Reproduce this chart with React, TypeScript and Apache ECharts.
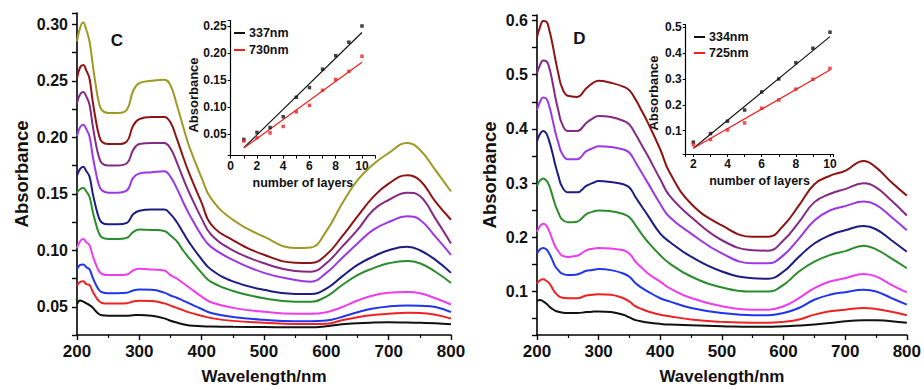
import React, { useEffect, useRef } from "react";
import * as echarts from "echarts";

// ---------- data ----------
const WAVELENGTHS = [200, 205, 210, 215, 220, 225, 230, 235, 240, 250, 265, 280, 290, 300, 320, 340, 350, 360, 370, 380, 400, 415, 450, 500, 550, 575, 600, 625, 650, 675, 700, 730, 750, 775, 800];

// Panel C spectra (layers 10 -> 1)
const C_L10 = [0.285, 0.297, 0.3015, 0.295, 0.285, 0.2655, 0.2465, 0.231, 0.224, 0.2215, 0.2215, 0.2245, 0.241, 0.248, 0.250, 0.251, 0.246, 0.229, 0.210, 0.192, 0.164, 0.146, 0.127, 0.112, 0.102, 0.1025, 0.117, 0.141, 0.162, 0.176, 0.186, 0.195, 0.189, 0.171, 0.152];
const C_L9 = [0.252, 0.262, 0.264, 0.259, 0.252, 0.2325, 0.2157, 0.2024, 0.196, 0.194, 0.194, 0.1964, 0.2103, 0.216, 0.218, 0.218, 0.213, 0.199, 0.183, 0.168, 0.142, 0.123, 0.109, 0.096, 0.089, 0.0888, 0.096, 0.112, 0.130, 0.147, 0.159, 0.1665, 0.162, 0.143, 0.127];
const C_L8 = [0.230, 0.238, 0.240, 0.236, 0.229, 0.211, 0.195, 0.183, 0.177, 0.175, 0.175, 0.177, 0.1886, 0.194, 0.195, 0.195, 0.190, 0.178, 0.164, 0.151, 0.128, 0.114, 0.100, 0.0885, 0.0817, 0.081, 0.0885, 0.103, 0.118, 0.1355, 0.1445, 0.151, 0.148, 0.128, 0.106];
const C_L7 = [0.201, 0.209, 0.211, 0.207, 0.201, 0.184, 0.1696, 0.158, 0.153, 0.151, 0.151, 0.153, 0.164, 0.168, 0.169, 0.170, 0.165, 0.155, 0.143, 0.132, 0.113, 0.103, 0.0915, 0.080, 0.0737, 0.0722, 0.080, 0.093, 0.106, 0.118, 0.125, 0.130, 0.127, 0.112, 0.096];
const C_L6 = [0.166, 0.172, 0.174, 0.170, 0.1653, 0.151, 0.1388, 0.129, 0.1245, 0.123, 0.123, 0.1243, 0.1318, 0.135, 0.136, 0.136, 0.132, 0.125, 0.116, 0.107, 0.092, 0.083, 0.0725, 0.065, 0.0613, 0.0613, 0.066, 0.0767, 0.087, 0.0944, 0.100, 0.103, 0.100, 0.0915, 0.080];
const C_L5 = [0.151, 0.154, 0.155, 0.152, 0.1474, 0.1348, 0.124, 0.1154, 0.1114, 0.110, 0.110, 0.111, 0.1161, 0.1184, 0.118, 0.117, 0.113, 0.108, 0.100, 0.093, 0.080, 0.072, 0.064, 0.0575, 0.0545, 0.0545, 0.059, 0.069, 0.078, 0.084, 0.0885, 0.0905, 0.0885, 0.081, 0.071];
const C_L4 = [0.102, 0.108, 0.110, 0.107, 0.1046, 0.0956, 0.0879, 0.0818, 0.079, 0.078, 0.078, 0.0786, 0.0821, 0.0836, 0.083, 0.082, 0.078, 0.075, 0.071, 0.067, 0.059, 0.054, 0.049, 0.0455, 0.0437, 0.0437, 0.0452, 0.0496, 0.0555, 0.060, 0.0623, 0.063, 0.062, 0.0575, 0.052];
const C_L3 = [0.083, 0.087, 0.0875, 0.085, 0.0832, 0.076, 0.0699, 0.0651, 0.0628, 0.062, 0.062, 0.0624, 0.0644, 0.0653, 0.065, 0.0625, 0.060, 0.058, 0.0555, 0.053, 0.048, 0.0445, 0.041, 0.0384, 0.0372, 0.0372, 0.0378, 0.041, 0.0452, 0.0485, 0.0503, 0.0511, 0.0508, 0.0497, 0.0452];
const C_L2 = [0.0685, 0.072, 0.0725, 0.070, 0.0692, 0.0636, 0.0589, 0.0552, 0.0534, 0.0528, 0.0528, 0.0531, 0.0546, 0.0553, 0.055, 0.053, 0.051, 0.049, 0.047, 0.045, 0.042, 0.040, 0.0375, 0.0359, 0.0347, 0.0347, 0.035, 0.038, 0.0408, 0.0428, 0.0437, 0.0446, 0.0445, 0.043, 0.0395];
const C_L1 = [0.0524, 0.0555, 0.0545, 0.053, 0.0515, 0.0494, 0.0462, 0.0436, 0.0424, 0.042, 0.042, 0.042, 0.0425, 0.0428, 0.042, 0.0397, 0.0376, 0.036, 0.0345, 0.0335, 0.0328, 0.0325, 0.0322, 0.032, 0.0318, 0.0318, 0.0328, 0.0345, 0.0355, 0.036, 0.0362, 0.036, 0.0358, 0.0355, 0.0345];

// Panel D spectra (layers 10 -> 2)
const D_L10 = [0.5695, 0.588, 0.599, 0.598, 0.582, 0.557, 0.527, 0.500, 0.478, 0.461, 0.459, 0.475, 0.484, 0.489, 0.485, 0.478, 0.471, 0.454, 0.433, 0.411, 0.362, 0.320, 0.262, 0.222, 0.201, 0.201, 0.222, 0.259, 0.298, 0.3135, 0.3227, 0.341, 0.329, 0.3015, 0.277];
const D_L9 = [0.502, 0.518, 0.526, 0.525, 0.512, 0.487, 0.457, 0.432, 0.411, 0.396, 0.396, 0.411, 0.419, 0.424, 0.422, 0.415, 0.408, 0.390, 0.370, 0.350, 0.307, 0.277, 0.2375, 0.1947, 0.1764, 0.1755, 0.1947, 0.2283, 0.265, 0.280, 0.289, 0.2996, 0.2923, 0.2678, 0.2404];
const D_L8 = [0.435, 0.450, 0.458, 0.456, 0.4415, 0.418, 0.393, 0.373, 0.356, 0.344, 0.344, 0.359, 0.364, 0.368, 0.3665, 0.362, 0.356, 0.338, 0.319, 0.300, 0.2616, 0.2375, 0.207, 0.1704, 0.1521, 0.1521, 0.1673, 0.1978, 0.2313, 0.2496, 0.2576, 0.266, 0.260, 0.2375, 0.213];
const D_L7 = [0.377, 0.391, 0.396, 0.392, 0.377, 0.356, 0.332, 0.312, 0.295, 0.283, 0.283, 0.295, 0.300, 0.304, 0.302, 0.298, 0.292, 0.274, 0.257, 0.240, 0.207, 0.192, 0.1643, 0.137, 0.1247, 0.1237, 0.137, 0.1643, 0.1887, 0.2039, 0.213, 0.221, 0.215, 0.1947, 0.1735];
const D_L6 = [0.295, 0.305, 0.3085, 0.305, 0.295, 0.277, 0.2585, 0.245, 0.234, 0.228, 0.229, 0.243, 0.247, 0.2494, 0.2482, 0.243, 0.237, 0.222, 0.206, 0.1915, 0.167, 0.152, 0.1278, 0.1077, 0.100, 0.100, 0.1124, 0.137, 0.1552, 0.1673, 0.1746, 0.1844, 0.178, 0.1612, 0.143];
const D_L5 = [0.210, 0.221, 0.225, 0.222, 0.211, 0.196, 0.1823, 0.174, 0.167, 0.164, 0.166, 0.176, 0.179, 0.1805, 0.1793, 0.1762, 0.170, 0.155, 0.144, 0.1335, 0.1183, 0.1064, 0.0881, 0.0729, 0.0667, 0.0667, 0.0729, 0.0881, 0.1064, 0.1186, 0.1247, 0.1326, 0.128, 0.1124, 0.0985];
const D_L4 = [0.170, 0.178, 0.1805, 0.178, 0.170, 0.158, 0.1457, 0.139, 0.1335, 0.1305, 0.1317, 0.1384, 0.140, 0.1415, 0.1396, 0.1335, 0.1274, 0.1152, 0.107, 0.100, 0.0878, 0.082, 0.0698, 0.0607, 0.0565, 0.0565, 0.0607, 0.0698, 0.085, 0.0942, 0.099, 0.1033, 0.1003, 0.0881, 0.0759];
const D_L3 = [0.1152, 0.121, 0.1226, 0.120, 0.1152, 0.106, 0.097, 0.092, 0.089, 0.0878, 0.0878, 0.0927, 0.094, 0.0951, 0.094, 0.0878, 0.0817, 0.0726, 0.068, 0.0634, 0.0573, 0.0547, 0.0485, 0.0442, 0.0424, 0.0424, 0.0442, 0.0485, 0.0576, 0.0638, 0.0667, 0.0698, 0.068, 0.063, 0.0565];
const D_L2 = [0.0829, 0.0845, 0.082, 0.078, 0.0726, 0.068, 0.0646, 0.063, 0.0616, 0.0604, 0.0604, 0.0622, 0.063, 0.0634, 0.0622, 0.0573, 0.0524, 0.0475, 0.045, 0.043, 0.0405, 0.0393, 0.038, 0.0363, 0.035, 0.035, 0.0363, 0.0375, 0.0393, 0.042, 0.0455, 0.0473, 0.047, 0.0455, 0.0424];

// Inset C
const C_LAYERS = [1, 2, 3, 4, 5, 6, 7, 8, 9, 10];
const C_337 = [0.040, 0.053, 0.062, 0.082, 0.118, 0.136, 0.170, 0.195, 0.220, 0.250];
const C_730 = [0.037, 0.043, 0.052, 0.064, 0.091, 0.103, 0.131, 0.151, 0.166, 0.194];
const C_FIT_X = [1, 10];
const C_FIT_337 = [0.0247, 0.238];
const C_FIT_730 = [0.024, 0.183];

// Inset D
const D_LAYERS = [2, 3, 4, 5, 6, 7, 8, 9, 10];
const D_334 = [0.056, 0.089, 0.137, 0.180, 0.250, 0.300, 0.363, 0.419, 0.481];
const D_725 = [0.046, 0.066, 0.103, 0.130, 0.187, 0.219, 0.261, 0.299, 0.341];
const D_FIT_X = [2, 10];
const D_FIT_334 = [0.032, 0.464];
const D_FIT_725 = [0.032, 0.335];

const C_SPECTRA = [C_L10, C_L9, C_L8, C_L7, C_L6, C_L5, C_L4, C_L3, C_L2, C_L1];
const D_SPECTRA = [D_L10, D_L9, D_L8, D_L7, D_L6, D_L5, D_L4, D_L3, D_L2];
const C_COLORS = ["#9c9a22", "#8e1414", "#852a84", "#9b38e6", "#1c1c82", "#2a8c2a", "#ee3cee", "#2035ee", "#ee2222", "#111111"];
const D_COLORS = ["#8e1414", "#852a84", "#9b38e6", "#1c1c82", "#2a8c2a", "#ee3cee", "#2035ee", "#ee2222", "#111111"];

// ---------- helpers ----------
const FONT = "Liberation Sans";
const isMult = (v: number, step: number) => Math.abs(v / step - Math.round(v / step)) < 1e-6;
const txt = (size: number) => ({ fontFamily: FONT, fontWeight: "bold" as const, fontSize: size, color: "#111" });
const pairs = (xs: number[], ys: number[]) => xs.map((x, i) => [x, ys[i]]);

function mainX(gridIndex: number) {
  return {
    type: "value", gridIndex, min: 200, max: 800, interval: 100,
    axisLine: { show: true, onZero: false, lineStyle: { color: "#000", width: 1.6 } },
    axisTick: { show: true, inside: false, length: 5, lineStyle: { color: "#000", width: 1.4 } },
    minorTick: { show: true, splitNumber: 2, length: 3, lineStyle: { color: "#000", width: 1.2 } },
    splitLine: { show: false }, minorSplitLine: { show: false },
    axisLabel: { ...txt(17), margin: 8 },
    name: "Wavelength/nm", nameLocation: "middle", nameGap: 33, nameTextStyle: txt(17),
  };
}

function mainY(gridIndex: number, min: number, max: number, tickStep: number, labelStep: number, digits: number, nameGap: number) {
  return {
    type: "value", gridIndex, min, max, minInterval: tickStep, maxInterval: tickStep,
    axisLine: { show: true, onZero: false, lineStyle: { color: "#000", width: 1.6 } },
    axisTick: { show: true, inside: false, length: 5, lineStyle: { color: "#000", width: 1.4 } },
    splitLine: { show: false },
    axisLabel: { ...txt(16), margin: 9, formatter: (v: number) => (isMult(v, labelStep) ? v.toFixed(digits) : "") },
    name: "Absorbance", nameLocation: "middle", nameGap, nameTextStyle: txt(18.5),
  };
}

function insetX(gridIndex: number, min: number, max: number, nameGap: number) {
  return {
    type: "value", gridIndex, min, max, minInterval: 1, maxInterval: 1,
    axisLine: { show: true, onZero: false, lineStyle: { color: "#000", width: 1.2 } },
    axisTick: { show: true, inside: false, length: 3, lineStyle: { color: "#000", width: 1 } },
    splitLine: { show: false },
    axisLabel: { ...txt(12), margin: 4, formatter: (v: number) => (isMult(v, 2) ? String(Math.round(v)) : "") },
    name: "number of layers", nameLocation: "middle", nameGap, nameTextStyle: txt(12.5),
  };
}

function insetY(gridIndex: number, min: number, max: number, step: number, digits: number) {
  return {
    type: "value", gridIndex, min, max, minInterval: step, maxInterval: step,
    axisLine: { show: true, onZero: false, lineStyle: { color: "#000", width: 1.2 } },
    axisTick: { show: true, inside: false, length: 3, lineStyle: { color: "#000", width: 1 } },
    splitLine: { show: false },
    axisLabel: { ...txt(12), margin: 4, formatter: (v: number) => (isMult(v, step) ? v.toFixed(digits) : "") },
  };
}

function spectraSeries(list: number[][], colors: string[], axisIndex: number, prefix: string) {
  return list.map((ys, i) => ({
    name: `${prefix}${i}`,
    type: "line", xAxisIndex: axisIndex, yAxisIndex: axisIndex,
    data: pairs(WAVELENGTHS, ys), smooth: 0.45, showSymbol: false, symbol: "none",
    lineStyle: { color: colors[i], width: 2 }, itemStyle: { color: colors[i] },
    z: 2,
  }));
}

function insetSeries(name: string, color: string, axisIndex: number, xs: number[], ys: number[], fx: number[], fy: number[]) {
  return [
    {
      name: `${name} pts`, type: "scatter", xAxisIndex: axisIndex, yAxisIndex: axisIndex,
      data: pairs(xs, ys), symbol: "rect", symbolSize: 3.5, itemStyle: { color }, z: 5,
    },
    {
      name, type: "line", xAxisIndex: axisIndex, yAxisIndex: axisIndex,
      data: pairs(fx, fy), showSymbol: false, symbol: "none",
      lineStyle: { color, width: 1.2 }, itemStyle: { color }, z: 4,
    },
  ];
}

const legendCommon = {
  orient: "vertical", icon: "rect", itemWidth: 11, itemHeight: 2, itemGap: 3,
  selectedMode: false, padding: 0,
  textStyle: { ...txt(12.5), lineHeight: 14, padding: [0, 0, 0, -1] },
};

const option = {
  animation: false,
  backgroundColor: "#ffffff",
  grid: [
    { left: 77, top: 13, width: 374, height: 322 },
    { left: 230.7, top: 20.6, width: 144.4, height: 135 },
    { left: 537, top: 15, width: 372, height: 322 },
    { left: 685.7, top: 24.7, width: 147.7, height: 129.3 },
  ],
  xAxis: [
    mainX(0),
    insetX(1, 0, 11, 21),
    mainX(2),
    insetX(3, 1.55, 10.2, 20),
  ],
  yAxis: [
    mainY(0, 0.025, 0.31, 0.025, 0.05, 2, 46),
    insetY(1, 0.01, 0.26, 0.05, 2),
    mainY(2, 0.02, 0.61, 0.05, 0.1, 1, 38),
    insetY(3, 0.01, 0.51, 0.1, 1),
  ],
  legend: [
    { ...legendCommon, left: 234, top: 26, data: ["337nm", "730nm"] },
    { ...legendCommon, left: 694, top: 30, itemGap: 2, data: ["334nm", "725nm"] },
  ],
  graphic: [
    { type: "text", x: 117, y: 40, style: { text: "C", fill: "#111", font: `bold 17px "${FONT}"`, textAlign: "center", textVerticalAlign: "middle" } },
    { type: "text", x: 579.5, y: 38, style: { text: "D", fill: "#111", font: `bold 17px "${FONT}"`, textAlign: "center", textVerticalAlign: "middle" } },
    { type: "text", x: 193, y: 95, rotation: Math.PI / 2, style: { text: "Absorbance", fill: "#111", font: `bold 13px "${FONT}"`, textAlign: "center", textVerticalAlign: "middle" } },
    { type: "text", x: 653, y: 93, rotation: Math.PI / 2, style: { text: "Absorbance", fill: "#111", font: `bold 13px "${FONT}"`, textAlign: "center", textVerticalAlign: "middle" } },
  ],
  series: [
    ...spectraSeries(C_SPECTRA, C_COLORS, 0, "C-layer-"),
    ...insetSeries("337nm", "#111111", 1, C_LAYERS, C_337, C_FIT_X, C_FIT_337),
    ...insetSeries("730nm", "#ee2020", 1, C_LAYERS, C_730, C_FIT_X, C_FIT_730),
    ...spectraSeries(D_SPECTRA, D_COLORS, 2, "D-layer-"),
    ...insetSeries("334nm", "#111111", 3, D_LAYERS, D_334, D_FIT_X, D_FIT_334),
    ...insetSeries("725nm", "#ee2020", 3, D_LAYERS, D_725, D_FIT_X, D_FIT_725),
  ],
};

export default function App() {
  const ref = useRef<HTMLDivElement>(null);
  useEffect(() => {
    if (!ref.current) return;
    const chart = echarts.init(ref.current, null, { renderer: "svg" });
    chart.setOption(option as any);
    return () => chart.dispose();
  }, []);
  return (
    <div
      ref={ref}
      style={{ position: "absolute", left: 0, top: 0, width: 924, height: 390, background: "#fff" }}
    />
  );
}
